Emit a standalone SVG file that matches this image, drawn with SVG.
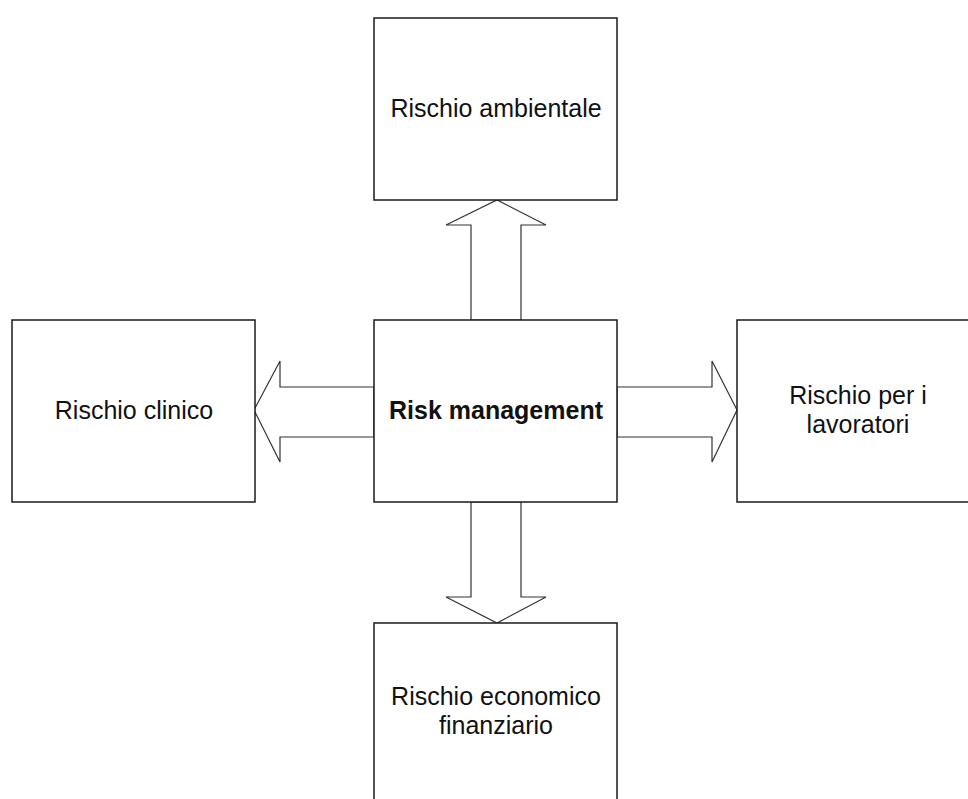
<svg xmlns="http://www.w3.org/2000/svg" width="968" height="799" viewBox="0 0 968 799">
  <style>
    .box { fill: #ffffff; stroke: #1a1a1a; stroke-width: 1.5; }
    .label { font-family: "Liberation Sans", Arial, sans-serif; font-size: 25px; fill: #111111; text-anchor: middle; }
    .bold { font-weight: bold; }
    .arrow { fill: #ffffff; stroke: #333333; stroke-width: 1.2; stroke-linejoin: miter; }
  </style>
  <rect width="968" height="799" fill="#ffffff"/>

  <!-- block arrows from the central node -->
  <g id="connectors">
    <!-- up -->
    <polygon class="arrow" points="471,320 471,225 446,225 497,200 546,225 521,225 521,320"/>
    <!-- down -->
    <polygon class="arrow" points="471,502 471,597 446,597 497,623 546,597 521,597 521,502"/>
    <!-- left -->
    <polygon class="arrow" points="374,387 280,387 280,361 254,410 280,462 280,437 374,437"/>
    <!-- right -->
    <polygon class="arrow" points="617,387 712,387 712,361 737,410 712,462 712,437 617,437"/>
  </g>

  <g id="node-center">
    <rect class="box" x="374" y="320" width="243" height="182"/>
    <text class="label bold" x="496" y="419">Risk management</text>
  </g>

  <g id="node-top">
    <rect class="box" x="374" y="18" width="243" height="182"/>
    <text class="label" x="496" y="117">Rischio ambientale</text>
  </g>

  <g id="node-left">
    <rect class="box" x="12" y="320" width="243" height="182"/>
    <text class="label" x="134" y="419">Rischio clinico</text>
  </g>

  <g id="node-right">
    <rect class="box" x="737" y="320" width="243" height="182"/>
    <text class="label" x="858" y="404">Rischio per i</text>
    <text class="label" x="858" y="433">lavoratori</text>
  </g>

  <g id="node-bottom">
    <rect class="box" x="374" y="623" width="243" height="182"/>
    <text class="label" x="496" y="705">Rischio economico</text>
    <text class="label" x="496" y="734">finanziario</text>
  </g>
</svg>
